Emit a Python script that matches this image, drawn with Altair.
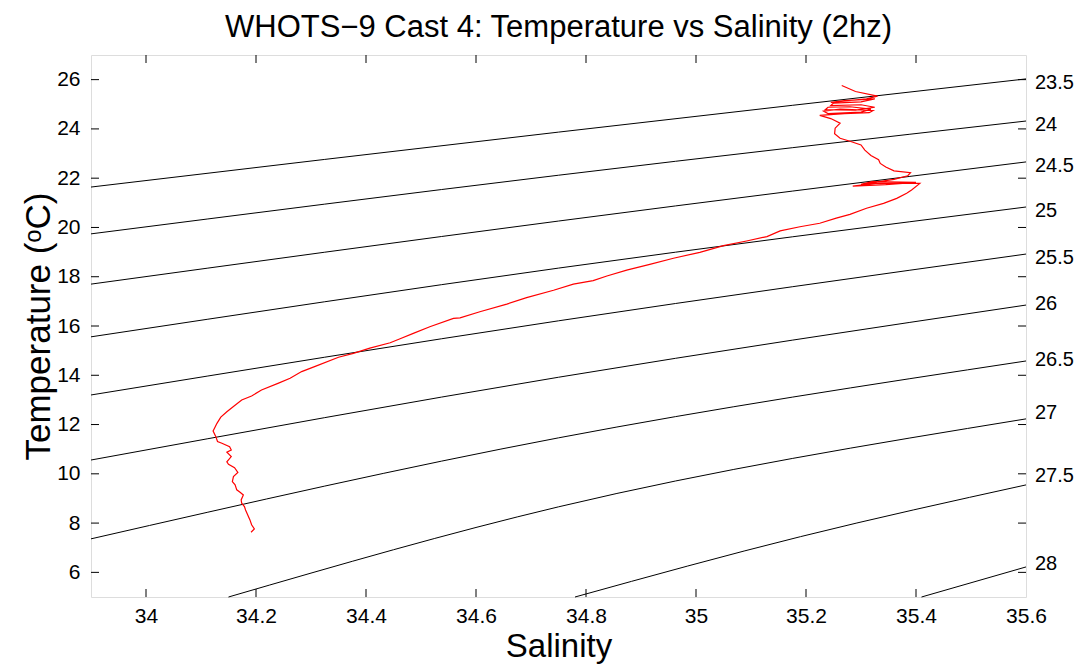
import altair as alt
import pandas as pd

# ---- data ----
title_text = "WHOTS\u22129 Cast 4: Temperature vs Salinity (2hz)"

x_ticks = [34.0, 34.2, 34.4, 34.6, 34.8, 35.0, 35.2, 35.4, 35.6]
y_ticks = [6, 8, 10, 12, 14, 16, 18, 20, 22, 24, 26]

# isopycnal contours (sigma-theta)
c235_S = [33.9, 34.75, 35.6]
c235_T = [21.64, 23.87, 26.03]
c240_S = [33.9, 34.75, 35.6]
c240_T = [19.74, 22.12, 24.32]
c245_S = [33.9, 34.75, 35.6]
c245_T = [17.70, 20.26, 22.66]
c250_S = [33.9, 34.75, 35.6]
c250_T = [15.56, 18.35, 20.83]
c255_S = [33.9, 34.75, 35.6]
c255_T = [13.20, 16.21, 18.92]
c260_S = [33.9, 34.75, 35.6]
c260_T = [10.56, 13.92, 16.85]
c265_S = [33.9, 34.75, 35.6]
c265_T = [7.36, 11.46, 14.58]
c270_S = [34.15, 34.75, 35.6]
c270_T = [5.0, 8.66, 12.23]
c275_S = [34.78, 35.19, 35.6]
c275_T = [5.0, 7.45, 9.55]
c280_S = [35.41, 35.6]
c280_T = [5.0, 6.22]

sigma_labels = ["23.5", "24", "24.5", "25", "25.5", "26", "26.5", "27", "27.5", "28"]
sigma_label_T = [25.86, 24.16, 22.50, 20.67, 18.76, 16.89, 14.62, 12.47, 9.91, 6.34]

# CTD profile (salinity, temperature)
prof_S = [34.191, 34.197, 34.192, 34.189, 34.181, 34.179, 34.174, 34.173, 34.177, 34.171,
          34.165, 34.162, 34.157, 34.159, 34.167, 34.161, 34.150, 34.147, 34.155, 34.147,
          34.155, 34.152, 34.138, 34.130, 34.127, 34.122, 34.125, 34.129, 34.136, 34.147,
          34.159, 34.174, 34.192, 34.210, 34.241, 34.262, 34.283, 34.310, 34.350, 34.377,
          34.407, 34.444, 34.462, 34.486, 34.516, 34.559, 34.571, 34.607, 34.656, 34.692,
          34.741, 34.777, 34.813, 34.838, 34.874, 34.916, 34.959, 35.007, 35.050, 35.092,
          35.129, 35.153, 35.189, 35.225, 35.255, 35.280, 35.310, 35.341, 35.365, 35.383,
          35.392, 35.407, 35.330, 35.285, 35.345, 35.400, 35.320, 35.300, 35.360, 35.385,
          35.390, 35.360, 35.345, 35.335, 35.332, 35.318, 35.307, 35.300, 35.280, 35.262,
          35.252, 35.253, 35.262, 35.245, 35.225, 35.270, 35.315, 35.322, 35.262, 35.232,
          35.240, 35.300, 35.318, 35.280, 35.240, 35.235, 35.290, 35.325, 35.300, 35.245,
          35.250, 35.300, 35.325, 35.270, 35.245, 35.310, 35.330, 35.290, 35.265]
prof_T = [7.63, 7.76, 7.93, 8.13, 8.53, 8.67, 8.81, 8.94, 9.14, 9.25,
          9.35, 9.55, 9.68, 9.89, 10.06, 10.25, 10.39, 10.49, 10.70, 10.88,
          10.97, 11.10, 11.24, 11.31, 11.51, 11.74, 11.87, 12.05, 12.30, 12.52,
          12.73, 13.00, 13.16, 13.40, 13.68, 13.88, 14.15, 14.38, 14.73, 14.89,
          15.10, 15.32, 15.48, 15.70, 15.97, 16.31, 16.33, 16.58, 16.89, 17.15,
          17.45, 17.70, 17.84, 18.03, 18.27, 18.50, 18.75, 18.99, 19.26, 19.45,
          19.63, 19.86, 20.03, 20.17, 20.38, 20.53, 20.78, 20.98, 21.18, 21.39,
          21.52, 21.79, 21.80, 21.68, 21.74, 21.83, 21.86, 21.75, 21.95, 22.10,
          22.22, 22.30, 22.45, 22.60, 22.75, 22.92, 23.14, 23.35, 23.50, 23.62,
          23.80, 24.03, 24.23, 24.42, 24.55, 24.62, 24.66, 24.75, 24.80, 24.72,
          24.62, 24.68, 24.80, 24.90, 24.88, 24.78, 24.76, 24.88, 24.98, 24.95,
          25.05, 25.10, 25.22, 25.15, 25.08, 25.22, 25.33, 25.52, 25.76]

# ---- build tables ----
contour_sets = [
    ("23.5", c235_S, c235_T), ("24", c240_S, c240_T), ("24.5", c245_S, c245_T),
    ("25", c250_S, c250_T), ("25.5", c255_S, c255_T), ("26", c260_S, c260_T),
    ("26.5", c265_S, c265_T), ("27", c270_S, c270_T), ("27.5", c275_S, c275_T),
    ("28", c280_S, c280_T),
]
rows = []
for name, ss, tt in contour_sets:
    for s, t in zip(ss, tt):
        rows.append({"sigma": name, "S": s, "T": t})
contours = pd.DataFrame(rows)

profile = pd.DataFrame({"S": prof_S, "T": prof_T, "i": list(range(len(prof_S)))})
labels = pd.DataFrame({"lab": sigma_labels, "T": sigma_label_T})
xt_df = pd.DataFrame({"S": x_ticks[:-1]})
yt_df = pd.DataFrame({"T": y_ticks})

W, H = 935, 542
FONT = "Liberation Sans"
TL = 8  # tick length
LBL = 21

xs = alt.Scale(domain=[33.9, 35.6], nice=False, zero=False)
ys = alt.Scale(domain=[5, 27], nice=False, zero=False)

contour_layer = alt.Chart(contours).mark_line(
    color="black", strokeWidth=1, interpolate="monotone"
).encode(
    x=alt.X("S:Q", scale=xs, title="Salinity",
            axis=alt.Axis(values=x_ticks, format="~g", ticks=False, domain=False, grid=False,
                          labelPadding=8, titlePadding=4, labelFontSize=LBL, titleFontSize=33,
                          labelFont=FONT, titleFont=FONT, labelColor="black", titleColor="black",
                          titleFontWeight="normal", labelFlush=False, labelOverlap=False)),
    y=alt.Y("T:Q", scale=ys, title="Temperature (\u1d52C)",
            axis=alt.Axis(values=y_ticks, format="~g", ticks=False, domain=False, grid=False,
                          labelPadding=11, titlePadding=0, labelFontSize=LBL, titleFontSize=35,
                          labelFont=FONT, titleFont=FONT, labelColor="black", titleColor="black",
                          titleFontWeight="normal", labelFlush=False, labelOverlap=False)),
    detail="sigma:N",
)

profile_layer = alt.Chart(profile).mark_line(color="#ff0000", strokeWidth=1.2).encode(
    x=alt.X("S:Q", scale=xs),
    y=alt.Y("T:Q", scale=ys),
    order="i:Q",
)

label_layer = alt.Chart(labels).mark_text(
    align="left", baseline="middle", dx=9, fontSize=20, font=FONT, color="black"
).encode(
    x=alt.value(W),
    y=alt.Y("T:Q", scale=ys),
    text="lab:N",
)

bottom_ticks = alt.Chart(xt_df).mark_rule(color="black", strokeWidth=1).encode(
    x=alt.X("S:Q", scale=xs), y=alt.value(H), y2=alt.value(H - TL))
top_ticks = alt.Chart(xt_df).mark_rule(color="black", strokeWidth=1).encode(
    x=alt.X("S:Q", scale=xs), y=alt.value(0), y2=alt.value(TL))
left_ticks = alt.Chart(yt_df).mark_rule(color="black", strokeWidth=1).encode(
    y=alt.Y("T:Q", scale=ys), x=alt.value(0), x2=alt.value(TL))
right_ticks = alt.Chart(yt_df).mark_rule(color="black", strokeWidth=1).encode(
    y=alt.Y("T:Q", scale=ys), x=alt.value(W - TL), x2=alt.value(W))

chart = alt.layer(
    contour_layer, bottom_ticks, top_ticks, left_ticks, right_ticks, profile_layer, label_layer
).properties(
    width=W, height=H,
    title=alt.Title(title_text, fontSize=31, font=FONT, fontWeight="normal", color="black",
                    anchor="middle", offset=11),
    autosize=alt.AutoSizeParams(type="none"),
    padding={"left": 83, "top": 47, "right": 50, "bottom": 73},
).configure_view(
    stroke="black", strokeWidth=1
).configure(background="white")

chart.save("out.html", embed_options={"renderer": "svg", "actions": False})
